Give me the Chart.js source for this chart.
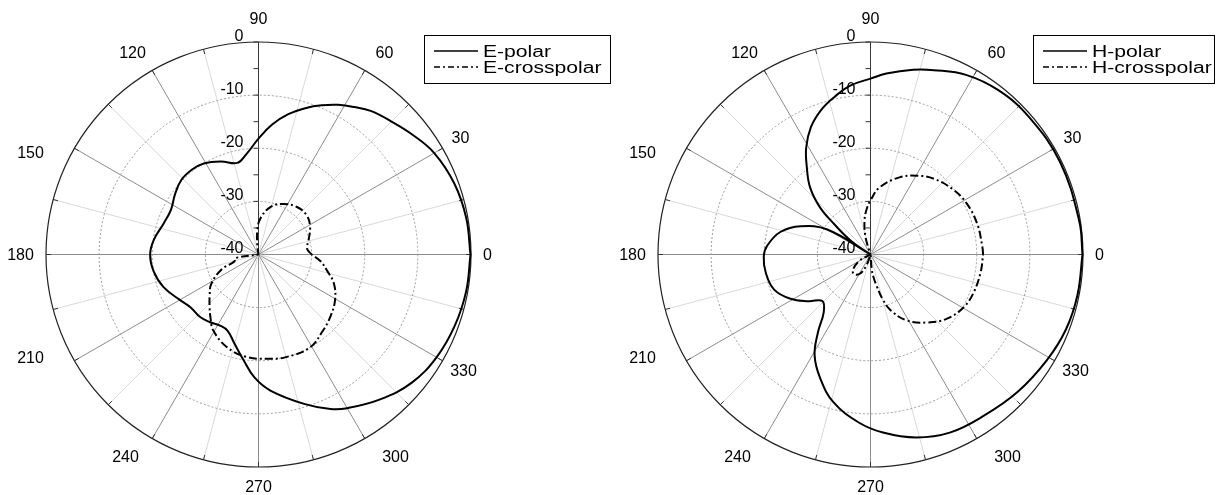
<!DOCTYPE html>
<html>
<head>
<meta charset="utf-8">
<title>E/H polar patterns</title>
<script src="https://cdn.jsdelivr.net/npm/chart.js@4.4.1/dist/chart.umd.min.js"></script>
<style>
    body { margin: 0; background: #fff; }
    #wrap { position: relative; width: 1217px; height: 495px; }
    canvas { position: absolute; top: 0; }
</style>
</head>
<body>
<div id="wrap">
    <canvas id="chartE" width="614" height="495" style="left:0"></canvas>
    <canvas id="chartH" width="603" height="495" style="left:614px"></canvas>
</div>
<script>
// escala radial (dB) y angulos
const radialTicks = [0, -10, -20, -30, -40];
const angleTicks = [0, 30, 60, 90, 120, 150, 180, 210, 240, 270, 300, 330];
const rMin = -40;

// plano E
const ePolarAngles = [0, 10, 20, 30, 38, 45, 52, 57, 62, 67, 72, 78, 84, 90, 97, 103, 112, 121, 128, 136, 144, 153, 162, 172, 180,
    189, 199, 210, 218, 227, 234, 242, 248, 255, 262, 268, 275, 287, 295, 300, 310, 320, 330, 340, 350];
const ePolarDb = [-0.1, -0.3, -0.8, -1.8, -3.3, -4.6, -5.7, -6.9, -8.1, -9.5, -11, -13, -15.4, -18.2, -21, -22.3, -21.1, -20, -19.7, -19.8, -20.6, -21.5, -21.2, -20.1, -19.6,
    -20, -21.1, -22.9, -23.8, -23.9, -24.3, -24.8, -24.5, -22.6, -19.9, -16.9, -14.3, -10.6, -7.9, -6.6, -4.4, -2.4, -1.3, -0.7, -0.3];

const eCrossAngles = [0, 7, 16, 28, 39, 51, 64, 76, 87, 93, 98, 102, 120, 150, 185, 189, 196, 202, 212, 220, 227, 233, 239, 251, 263, 275, 285, 299,
    310, 319, 329, 339, 347, 354];
const eCrossDb = [-30, -30.8, -30.2, -29, -28.3, -28.5, -29.4, -30.8, -33.2, -35.5, -38.5, -40, -40, -40, -40, -35.5, -35.3, -32.5, -29.5, -28, -26.5, -25, -23.4, -21.6, -20.6, -20.3, -20, -20,
    -21.2, -22.1, -23.2, -24.8, -26.8, -28.3];

// plano H
const hPolarAngles = [0, 9, 26, 41, 52, 62, 71, 77, 85, 90, 97, 103, 109, 115, 121, 126, 132, 137, 140, 145, 147.5, 149.5, 150, 158, 166, 175, 181,
    190, 200, 209, 217, 224, 231, 236, 241, 248, 256, 266, 274, 284, 294, 305, 317, 329, 339, 349];
const hPolarDb = [-0.1, -0.2, -0.3, -0.5, -0.8, -1.7, -3.3, -4.3, -5.8, -6.9, -8, -9.6, -11.3, -13.5, -16.5, -19.6, -23, -27, -31, -35.4, -40, -40, -30.6, -25.8, -22.5, -20.5, -19.9,
    -20, -20.7, -22.8, -25.4, -27.4, -26, -22.3, -18.3, -14.8, -11.3, -8.3, -6.4, -4.5, -3.3, -2.9, -2.1, -1.3, -0.6, -0.3];

const hCrossAngles = [0, 4, 16, 28, 38, 50, 59, 69, 82, 90, 95, 100, 106, 112, 150, 200, 210, 222, 232, 242, 250, 256, 265, 272, 275, 278, 281, 285, 290,
    299, 310, 320, 331, 340, 351];
const hCrossDb = [-18.8, -18.9, -19.1, -19.5, -20.2, -21.4, -22.7, -24.4, -27.2, -29.8, -31.5, -33.5, -36.6, -40, -40, -40, -37.5, -35.5, -35.2, -36, -38, -40, -40, -40, -37, -35.5, -34, -31.4, -28.8,
    -25.8, -23.3, -21.2, -19.8, -19.3, -19];

function polarPoints(angles, db) {
    const pts = angles.map((a, i) => {
        const r = Math.max(db[i], rMin) - rMin;
        const t = a * Math.PI / 180;
        return { x: r * Math.cos(t), y: r * Math.sin(t) };
    });
    pts.push({ ...pts[0] }); // cerrar la curva
    return pts;
}

const FONT = '"Liberation Sans", Arial, sans-serif';

// posicion de las etiquetas de angulo respecto al centro (px)
const angleLabelPos = {
    0: [229, 0], 30: [202, -117], 60: [126, -202], 90: [0, -236],
    120: [-126, -202], 150: [-228, -102], 180: [-238, 0], 210: [-228, 103],
    240: [-133, 202], 270: [0, 232], 300: [137, 202], 330: [205, 116]
};

// rejilla polar dibujada con las escalas x/y del grafico
const polarGrid = {
    id: 'polarGrid',
    beforeDatasetsDraw(chart) {
        const ctx = chart.ctx;
        const xs = chart.scales.x, ys = chart.scales.y;
        const cx = xs.getPixelForValue(0), cy = ys.getPixelForValue(0);
        const rad = db => xs.getPixelForValue(db - rMin) - cx;
        const R = rad(0);
        ctx.save();

        // radios cada 15 grados
        for (let a = 0; a < 360; a += 15) {
            const t = a * Math.PI / 180;
            ctx.beginPath();
            ctx.lineWidth = 1;
            ctx.strokeStyle = a % 30 ? '#d9d9d9' : (a === 90 ? '#3a3a3a' : '#8c8c8c');
            ctx.moveTo(cx, cy);
            ctx.lineTo(cx + R * Math.cos(t), cy - R * Math.sin(t));
            ctx.stroke();
        }

        // circulos punteados
        ctx.setLineDash([2, 2]);
        ctx.strokeStyle = '#9a9a9a';
        radialTicks.forEach(v => {
            if (v === 0 || v === rMin) return;
            ctx.beginPath();
            ctx.arc(cx, cy, rad(v), 0, Math.PI * 2);
            ctx.stroke();
        });
        ctx.setLineDash([]);

        // circulo exterior
        ctx.beginPath();
        ctx.strokeStyle = '#222';
        ctx.lineWidth = 1.2;
        ctx.arc(cx, cy, R, 0, Math.PI * 2);
        ctx.stroke();

        // marcas en el circulo exterior
        ctx.lineWidth = 1;
        ctx.strokeStyle = '#333';
        for (let a = 0; a < 360; a += 15) {
            const t = a * Math.PI / 180;
            ctx.beginPath();
            ctx.moveTo(cx + R * Math.cos(t), cy - R * Math.sin(t));
            ctx.lineTo(cx + (R - 5) * Math.cos(t), cy - (R - 5) * Math.sin(t));
            ctx.stroke();
        }

        // marcas del eje radial (vertical)
        for (let v = rMin; v <= 0; v += 5) {
            const y = cy - rad(v);
            ctx.beginPath();
            ctx.moveTo(cx - 5, y);
            ctx.lineTo(cx, y);
            ctx.stroke();
        }

        // etiquetas dB
        ctx.fillStyle = '#000';
        ctx.font = '16px ' + FONT;
        ctx.textAlign = 'right';
        radialTicks.forEach(v => {
            ctx.fillText(String(v), cx - 15, cy - rad(v) - 1.5);
        });

        // etiquetas de angulo
        ctx.textAlign = 'center';
        angleTicks.forEach(a => {
            const [dx, dy] = angleLabelPos[a];
            ctx.fillText(String(a), cx + dx, cy + dy + 5.8);
        });
        ctx.restore();
    }
};

// leyenda con recuadro
const boxLegend = {
    id: 'boxLegend',
    afterDraw(chart, args, opts) {
        const ctx = chart.ctx;
        ctx.save();
        ctx.lineWidth = 1;
        ctx.strokeStyle = '#000';
        ctx.strokeRect(opts.x + 0.5, opts.y + 0.5, opts.w, opts.h);
        chart.data.datasets.forEach((ds, i) => {
            const y = opts.y + 16 + i * 16;
            ctx.beginPath();
            ctx.lineWidth = 1.6;
            ctx.setLineDash(ds.borderDash ? [6, 3, 2, 3] : []);
            ctx.moveTo(opts.x + 10, y);
            ctx.lineTo(opts.x + 54, y);
            ctx.stroke();
            ctx.setLineDash([]);
            ctx.save();
            ctx.translate(opts.x + 59, y + 5.8);
            ctx.scale(1.32, 1);
            ctx.font = '16px ' + FONT;
            ctx.fillStyle = '#000';
            ctx.fillText(ds.label, 0, 0);
            ctx.restore();
        });
        ctx.restore();
    }
};

function makeChart(id, padLeft, polar, cross, legendBox) {
    const axis = { type: 'linear', min: rMin, max: -rMin, display: false };
    const lineStyle = {
        borderColor: '#000',
        borderWidth: 2,
        showLine: true,
        tension: 0.4,
        pointRadius: 0,
        clip: false
    };
    return new Chart(document.getElementById(id), {
        type: 'scatter',
        data: {
            datasets: [
                { ...lineStyle, label: polar.label, data: polarPoints(polar.angles, polar.db) },
                { ...lineStyle, label: cross.label, data: polarPoints(cross.angles, cross.db), borderDash: [8, 3, 2, 3] }
            ]
        },
        options: {
            responsive: false,
            animation: false,
            layout: { padding: { left: padLeft, top: 42, right: document.getElementById(id).width - padLeft - 425, bottom: 28 } },
            scales: { x: axis, y: axis },
            plugins: {
                legend: { display: false },
                tooltip: { enabled: false },
                boxLegend: legendBox
            }
        },
        plugins: [polarGrid, boxLegend]
    });
}

makeChart('chartE', 46,
    { label: 'E-polar', angles: ePolarAngles, db: ePolarDb },
    { label: 'E-crosspolar', angles: eCrossAngles, db: eCrossDb },
    { x: 424, y: 35, w: 186, h: 48 });

makeChart('chartH', 44,
    { label: 'H-polar', angles: hPolarAngles, db: hPolarDb },
    { label: 'H-crosspolar', angles: hCrossAngles, db: hCrossDb },
    { x: 419, y: 35, w: 181, h: 48 });
</script>
</body>
</html>
